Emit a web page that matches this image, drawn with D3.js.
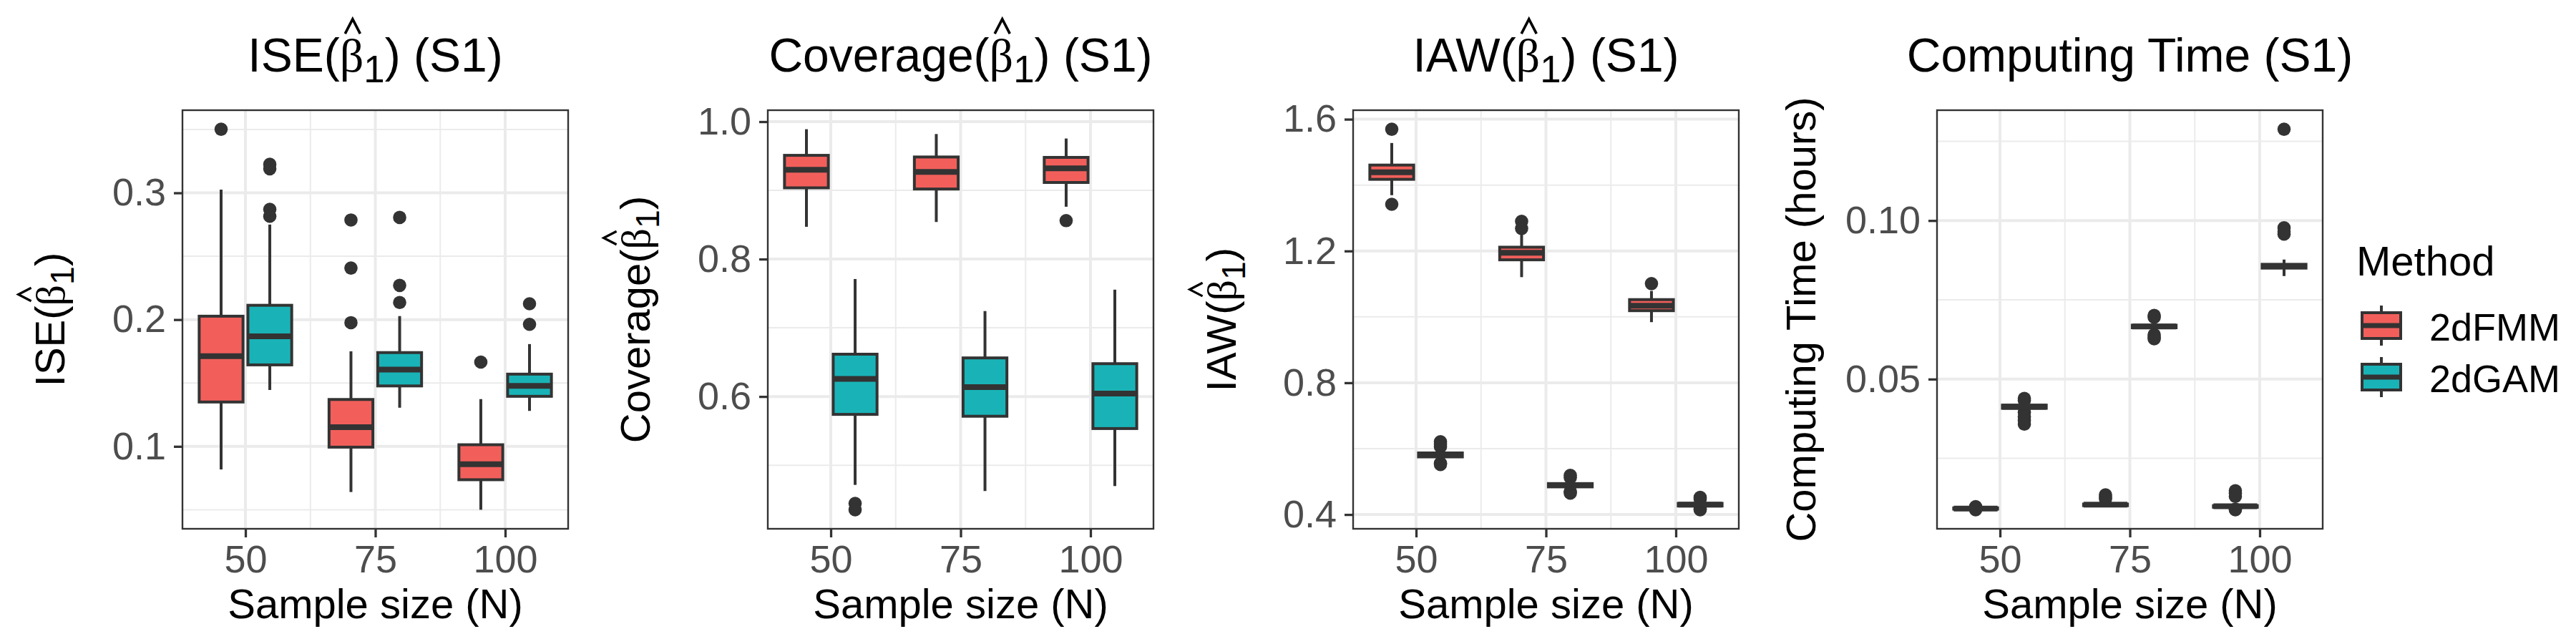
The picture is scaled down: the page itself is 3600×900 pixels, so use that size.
<!DOCTYPE html>
<html>
<head>
<meta charset="utf-8">
<script src="https://cdn.jsdelivr.net/npm/d3@7"></script>
<style>
  html, body { margin: 0; padding: 0; background: #ffffff; }
  svg { display: block; }
</style>
</head>
<body>
<svg id="chart" width="3600" height="900"></svg>
<script>
// ---------------- DATA ----------------
const sampleSizes = ["50", "75", "100"];
const methods = ["2dFMM", "2dGAM"];
const methodColors = ["#F25F5B", "#19B3B7"];

// box stats per sample size: [lowerWhisker, Q1, median, Q3, upperWhisker]
const iseFMM = [[0.0818, 0.1350, 0.1712, 0.2027, 0.3026],
                [0.0640, 0.0994, 0.1152, 0.1370, 0.1750],
                [0.0500, 0.0737, 0.0860, 0.1013, 0.1373]];
const iseFMMOut = [[0.3502], [0.2786, 0.2407, 0.1976], [0.1665]];
const iseGAM = [[0.1445, 0.1643, 0.1869, 0.2113, 0.2750],
                [0.1305, 0.1477, 0.1606, 0.1740, 0.2028],
                [0.1280, 0.1395, 0.1477, 0.1570, 0.1807]];
const iseGAMOut = [[0.3225, 0.3190, 0.2870, 0.2815], [0.2806, 0.2270, 0.2135], [0.2125, 0.1963]];

const covFMM = [[0.8470, 0.9037, 0.9300, 0.9510, 0.9890],
                [0.8540, 0.9020, 0.9270, 0.9486, 0.9820],
                [0.8762, 0.9115, 0.9320, 0.9480, 0.9755]];
const covFMMOut = [[], [], [0.8560]];
const covGAM = [[0.4714, 0.5740, 0.6257, 0.6616, 0.7710],
                [0.4625, 0.5713, 0.6138, 0.6562, 0.7244],
                [0.4697, 0.5534, 0.6042, 0.6478, 0.7555]];
const covGAMOut = [[0.4445, 0.4352], [], []];

const iawFMM = [[1.3693, 1.4175, 1.4392, 1.4608, 1.5278],
                [1.1206, 1.1732, 1.1945, 1.2115, 1.2504],
                [0.9840, 1.0188, 1.0340, 1.0524, 1.0786]];
const iawFMMOut = [[1.5696, 1.3418], [1.2900, 1.2683], [1.1010]];
const iawGAM = [[0.5650, 0.5750, 0.5810, 0.5870, 0.5980],
                [0.4730, 0.4840, 0.4890, 0.4940, 0.5050],
                [0.4200, 0.4260, 0.4300, 0.4340, 0.4420]];
const iawGAMOut = [[0.6210, 0.6130, 0.6060, 0.5560, 0.5520], [0.5190, 0.5120, 0.4650, 0.4700], [0.4520, 0.4470, 0.4170, 0.4145]];

const timeFMM = [[0.0089, 0.0090, 0.0092, 0.0094, 0.0096],
                 [0.0098, 0.0101, 0.0104, 0.0106, 0.0112],
                 [0.0093, 0.0096, 0.0099, 0.0101, 0.0106]];
const timeFMMOut = [[0.0098, 0.0088], [0.0135, 0.0128, 0.0122], [0.0148, 0.0140, 0.0130, 0.0090, 0.0088]];
const timeGAM = [[0.0402, 0.0408, 0.0413, 0.0418, 0.0425],
                 [0.0652, 0.0662, 0.0666, 0.0670, 0.0680],
                 [0.0825, 0.0850, 0.0856, 0.0862, 0.0877]];
const timeGAMOut = [[0.0439, 0.0433, 0.0395, 0.0381, 0.0370, 0.0358], [0.0701, 0.0695, 0.0640, 0.0632, 0.0627], [0.1288, 0.0977, 0.0965, 0.0957]];

const iseTicks = [0.1, 0.2, 0.3];       const iseTickLabels = ["0.1", "0.2", "0.3"];
const covTicks = [0.6, 0.8, 1.0];       const covTickLabels = ["0.6", "0.8", "1.0"];
const iawTicks = [0.4, 0.8, 1.2, 1.6];  const iawTickLabels = ["0.4", "0.8", "1.2", "1.6"];
const timeTicks = [0.05, 0.10];         const timeTickLabels = ["0.05", "0.10"];

const xTitle = "Sample size (N)";
const legendTitle = "Method";

// ---------------- LAYOUT ----------------
const SANS = "'Liberation Sans', Arial, Helvetica, sans-serif";
const SERIF = "'Liberation Serif', 'Times New Roman', serif";
const TOP = 154, BOTTOM = 739, PW = 539;
const TICK_FS = 54, AXIS_FS = 58, TITLE_FS = 66;

const panels = [
  { left: 255,  fmm: iseFMM,  fmmOut: iseFMMOut,  gam: iseGAM,  gamOut: iseGAMOut,  ticks: iseTicks,  labels: iseTickLabels,
    title: { math: true, pre: "ISE(", post: ") (S1)" }, ylab: { math: true, pre: "ISE(", post: ")" }, ylabX: 90 },
  { left: 1073, fmm: covFMM,  fmmOut: covFMMOut,  gam: covGAM,  gamOut: covGAMOut,  ticks: covTicks,  labels: covTickLabels,
    title: { math: true, pre: "Coverage(", post: ") (S1)" }, ylab: { math: true, pre: "Coverage(", post: ")" }, ylabX: 908 },
  { left: 1891, fmm: iawFMM,  fmmOut: iawFMMOut,  gam: iawGAM,  gamOut: iawGAMOut,  ticks: iawTicks,  labels: iawTickLabels,
    title: { math: true, pre: "IAW(", post: ") (S1)" }, ylab: { math: true, pre: "IAW(", post: ")" }, ylabX: 1727 },
  { left: 2707, fmm: timeFMM, fmmOut: timeFMMOut, gam: timeGAM, gamOut: timeGAMOut, ticks: timeTicks, labels: timeTickLabels,
    title: { math: false, text: "Computing Time (S1)" }, ylab: { math: false, text: "Computing Time (hours)" }, ylabX: 2537 }
];

const svg = d3.select("#chart");
svg.append("rect").attr("width", 3600).attr("height", 900).attr("fill", "#ffffff");

function mathText(parent, pre, post, size, x, y, rot) {
  const g = parent.append("g").attr("transform", `translate(${x},${y}) rotate(${rot})`);
  const t = g.append("text").attr("font-family", SANS).attr("font-size", size).attr("fill", "#000").attr("y", 0);
  const s1 = t.append("tspan").text(pre);
  const sb = t.append("tspan").attr("font-family", SERIF).text("β");
  t.append("tspan").attr("font-size", size * 0.8).attr("dy", size * 0.23).text("1");
  t.append("tspan").attr("dy", -size * 0.23).text(post);
  const total = t.node().getComputedTextLength();
  const preW = s1.node().getComputedTextLength();
  const bW = sb.node().getComputedTextLength();
  t.attr("x", -total / 2);
  const cx = -total / 2 + preW + bW / 2 + size * 0.02;
  const hw = size * 0.16;
  g.append("path")
    .attr("d", `M${cx - hw},${-size * 0.80} L${cx},${-size * 1.11} L${cx + hw},${-size * 0.80}`)
    .attr("fill", "none").attr("stroke", "#000").attr("stroke-width", size * 0.055);
}

panels.forEach(p => {
  const all = [];
  [p.fmm, p.gam].forEach(arr => arr.forEach(s => all.push(s[0], s[4])));
  [p.fmmOut, p.gamOut].forEach(arr => arr.forEach(o => o.forEach(v => all.push(v))));
  const lo = d3.min(all), hi = d3.max(all), pad = (hi - lo) * 0.05;

  const x = d3.scaleLinear().domain([0.515, 3.485]).range([p.left, p.left + PW]);
  const y = d3.scaleLinear().domain([lo - pad, hi + pad]).range([BOTTOM, TOP]);
  const g = svg.append("g");

  // grid
  const step = p.ticks[1] - p.ticks[0];
  const minor = [];
  for (let v = p.ticks[0] - step / 2; v <= y.domain()[1] + 1e-9; v += step) {
    if (v >= y.domain()[0]) minor.push(v);
  }
  g.selectAll(".yminor").data(minor).enter().append("line")
    .attr("x1", p.left).attr("x2", p.left + PW).attr("y1", d => y(d)).attr("y2", d => y(d))
    .attr("stroke", "#EBEBEB").attr("stroke-width", 2);
  g.selectAll(".xminor").data([1.5, 2.5]).enter().append("line")
    .attr("x1", d => x(d)).attr("x2", d => x(d)).attr("y1", TOP).attr("y2", BOTTOM)
    .attr("stroke", "#EBEBEB").attr("stroke-width", 2);
  g.selectAll(".ymajor").data(p.ticks).enter().append("line")
    .attr("x1", p.left).attr("x2", p.left + PW).attr("y1", d => y(d)).attr("y2", d => y(d))
    .attr("stroke", "#EBEBEB").attr("stroke-width", 4);
  g.selectAll(".xmajor").data([1, 2, 3]).enter().append("line")
    .attr("x1", d => x(d)).attr("x2", d => x(d)).attr("y1", TOP).attr("y2", BOTTOM)
    .attr("stroke", "#EBEBEB").attr("stroke-width", 4);

  // boxes
  const boxW = 0.3375, offs = [-0.1875, 0.1875];
  [[p.fmm, p.fmmOut], [p.gam, p.gamOut]].forEach(([stats, outs], mi) => {
    stats.forEach((s, i) => {
      const cx = i + 1 + offs[mi];
      const bg = g.append("g");
      // outliers
      bg.selectAll("circle").data(outs[i]).enter().append("circle")
        .attr("cx", x(cx)).attr("cy", d => y(d)).attr("r", 9.3).attr("fill", "#333333");
      // whiskers
      bg.append("line").attr("x1", x(cx)).attr("x2", x(cx)).attr("y1", y(s[3])).attr("y2", y(s[4]))
        .attr("stroke", "#333333").attr("stroke-width", 4);
      bg.append("line").attr("x1", x(cx)).attr("x2", x(cx)).attr("y1", y(s[1])).attr("y2", y(s[0]))
        .attr("stroke", "#333333").attr("stroke-width", 4);
      // box
      bg.append("rect").attr("x", x(cx - boxW / 2)).attr("width", x(cx + boxW / 2) - x(cx - boxW / 2))
        .attr("y", y(s[3])).attr("height", y(s[1]) - y(s[3]))
        .attr("fill", methodColors[mi]).attr("stroke", "#333333").attr("stroke-width", 4);
      // median
      bg.append("line").attr("x1", x(cx - boxW / 2)).attr("x2", x(cx + boxW / 2)).attr("y1", y(s[2])).attr("y2", y(s[2]))
        .attr("stroke", "#333333").attr("stroke-width", 8);
    });
  });

  // border
  g.append("rect").attr("x", p.left).attr("y", TOP).attr("width", PW).attr("height", BOTTOM - TOP)
    .attr("fill", "none").attr("stroke", "#333333").attr("stroke-width", 2.4);

  // axes
  const yAxis = d3.axisLeft(y).tickValues(p.ticks).tickFormat((d, i) => p.labels[i]).tickSize(12).tickPadding(11);
  const ya = g.append("g").attr("transform", `translate(${p.left},0)`).call(yAxis);
  const xAxis = d3.axisBottom(x).tickValues([1, 2, 3]).tickFormat((d, i) => sampleSizes[i]).tickSize(12).tickPadding(11);
  const xa = g.append("g").attr("transform", `translate(0,${BOTTOM})`).call(xAxis);
  [ya, xa].forEach(a => {
    a.select(".domain").remove();
    a.selectAll(".tick line").attr("stroke", "#333333").attr("stroke-width", 3.3);
    a.selectAll(".tick text").attr("font-family", SANS).attr("font-size", TICK_FS).attr("fill", "#4D4D4D");
  });

  const cxp = p.left + PW / 2, cyp = (TOP + BOTTOM) / 2;
  // title
  if (p.title.math) mathText(svg, p.title.pre, p.title.post, TITLE_FS, cxp, 100, 0);
  else svg.append("text").attr("x", cxp).attr("y", 100).attr("text-anchor", "middle")
    .attr("font-family", SANS).attr("font-size", TITLE_FS).attr("fill", "#000").text(p.title.text);
  // y label
  if (p.ylab.math) mathText(svg, p.ylab.pre, p.ylab.post, AXIS_FS, p.ylabX, cyp, -90);
  else svg.append("text").attr("transform", `translate(${p.ylabX},${cyp}) rotate(-90)`).attr("text-anchor", "middle")
    .attr("font-family", SANS).attr("font-size", AXIS_FS).attr("fill", "#000").text(p.ylab.text);
  // x label
  svg.append("text").attr("x", cxp).attr("y", 864).attr("text-anchor", "middle")
    .attr("font-family", SANS).attr("font-size", AXIS_FS).attr("fill", "#000").text(xTitle);
});

// legend
const lg = svg.append("g");
lg.append("text").attr("x", 3293).attr("y", 385).attr("font-family", SANS).attr("font-size", AXIS_FS)
  .attr("fill", "#000").text(legendTitle);
methods.forEach((m, i) => {
  const cy = 455 + i * 72;
  lg.append("line").attr("x1", 3328).attr("x2", 3328).attr("y1", cy - 28).attr("y2", cy + 28)
    .attr("stroke", "#333333").attr("stroke-width", 4);
  lg.append("rect").attr("x", 3301).attr("y", cy - 18).attr("width", 54).attr("height", 36)
    .attr("fill", methodColors[i]).attr("stroke", "#333333").attr("stroke-width", 4);
  lg.append("line").attr("x1", 3301).attr("x2", 3355).attr("y1", cy).attr("y2", cy)
    .attr("stroke", "#333333").attr("stroke-width", 7);
  lg.append("text").attr("x", 3395).attr("y", cy + 21).attr("font-family", SANS).attr("font-size", TICK_FS)
    .attr("fill", "#000").text(m);
});
</script>
</body>
</html>
